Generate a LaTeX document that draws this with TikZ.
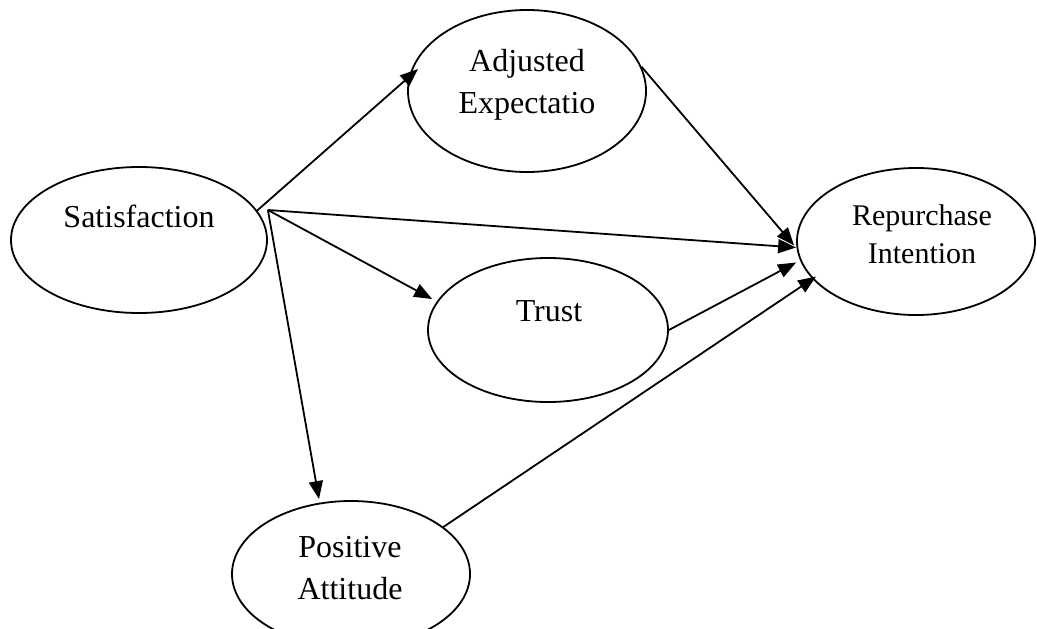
\documentclass[tikz,border=0pt]{standalone}
\usepackage{fontspec}
\setmainfont{Liberation Serif}
\usetikzlibrary{shapes.geometric,arrows.meta,calc}

\tikzset{
  construct/.style={draw, ellipse, line width=1.8pt, inner sep=0pt},
  lbl/.style={anchor=base, align=center, inner sep=0pt,
              font=\fontsize{32}{42}\selectfont},
  lblsmall/.style={lbl, font=\fontsize{30}{38}\selectfont},
  path/.style={line width=1.8pt, -{Triangle[length=18pt,width=14pt]}}
}

\begin{document}
\begin{tikzpicture}[x=1pt, y=-1pt]
  \useasboundingbox (0,0) rectangle (1037,629);

  % latent constructs
  \node[construct, minimum width=256pt, minimum height=146pt] (sat)   at (139,240)   {};
  \node[construct, minimum width=238pt, minimum height=162pt] (adj)   at (527,91)    {};
  \node[construct, minimum width=240pt, minimum height=144pt] (trust) at (548,330)   {};
  \node[construct, minimum width=238pt, minimum height=146pt] (pos)   at (351,574)   {};
  \node[construct, minimum width=238pt, minimum height=147pt] (rep)   at (916,241.5) {};

  % construct names (base anchor sits on the last line)
  \node[lbl]      (satT)   at (139,227) {Satisfaction};
  \node[lbl]      (adjT)   at (527,113) {Adjusted\\Expectatio};
  \node[lbl]      (trustT) at (549,321) {Trust};
  \node[lbl]      (posT)   at (350,599) {Positive\\Attitude};
  \node[lblsmall] (repT)   at (922,263) {Repurchase\\Intention};

  % connector end points
  \coordinate (fan)     at ($(sat.east)+(0,-30)$);
  \coordinate (adjIn)   at ($(adj.center)+(-109,-22)$);
  \coordinate (trustIn) at ($(trust.west)+(5,-31)$);
  \coordinate (posIn)   at ($(pos.north)+(-32,-1)$);
  \coordinate (repA)    at ($(rep.west)+(-2,4)$);
  \coordinate (repS)    at ($(rep.west)+(0,6)$);
  \coordinate (repT2)   at ($(rep.west)+(0,21)$);
  \coordinate (repP)    at ($(rep.west)+(20,35)$);

  % hypothesised paths
  \draw[path] (sat.14)     -- (adjIn);
  \draw[path] (fan)        -- (repS);
  \draw[path] (fan)        -- (trustIn);
  \draw[path] (fan)        -- (posIn);
  \draw[path] (adj.12)     -- (repA);
  \draw[path] (trust.east) -- (repT2);
  \draw[path] (pos.27)     -- (repP);
\end{tikzpicture}
\end{document}
